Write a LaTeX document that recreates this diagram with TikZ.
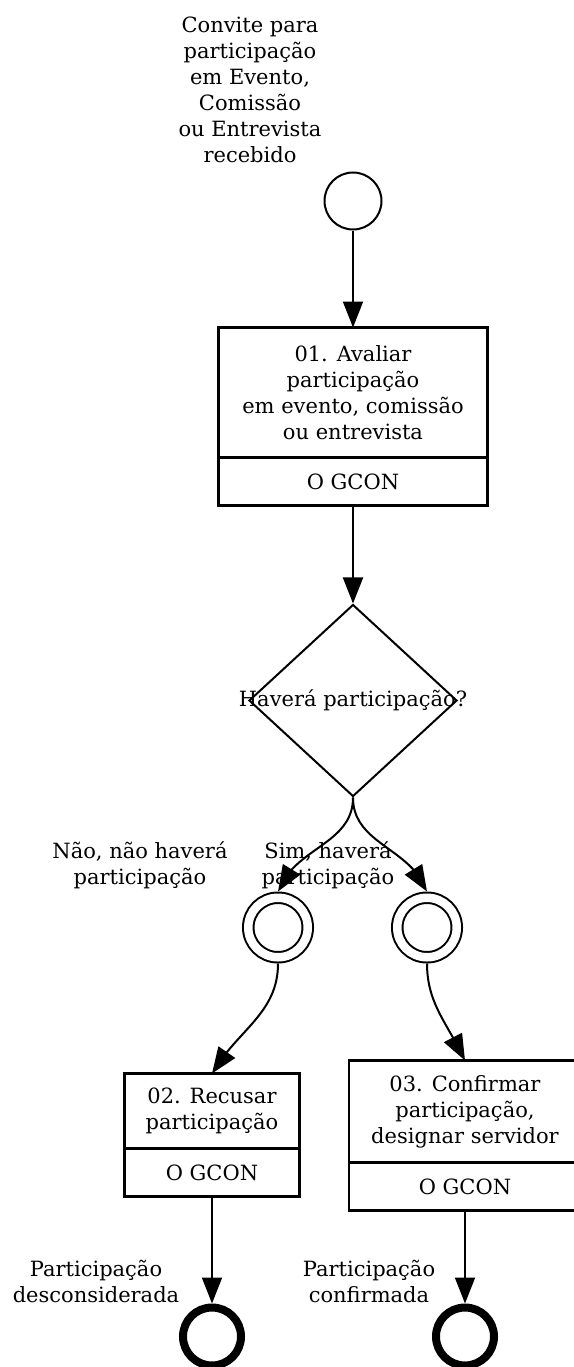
\documentclass[tikz,border=0pt]{standalone}
\usepackage{fontspec}
\setmainfont{DejaVu Serif}
\usetikzlibrary{positioning,calc,arrows.meta,bending,shapes.geometric}
\newcommand{\bpmnfont}{\fontsize{21}{26}\selectfont}

\begin{document}
\begin{tikzpicture}[x=1pt,y=1pt,->,>={Triangle[width=20pt,length=26pt]},line width=2pt,font=\bpmnfont,align=center,
  task/.style={draw,rectangle,line width=2.4pt,outer sep=0pt,inner sep=0pt},
  role/.style={draw,rectangle,line width=2.4pt,outer sep=0pt,inner sep=0pt,minimum height=48pt},
  startev/.style={draw,circle,minimum size=57pt,inner sep=0pt},
  interev/.style={draw,circle,double,double distance=8.5pt,minimum size=59.5pt,inner sep=0pt,outer sep=6.25pt},
  endev/.style={draw,circle,line width=8pt,minimum size=58pt,inner sep=0pt},
  gway/.style={draw,diamond,minimum width=208pt,minimum height=192pt,inner sep=0pt}]
\useasboundingbox (0,0) rectangle (573,-1367);

%% Start event
\node (start) [startev] at (353,-201) {};
\node (startLbl) at ($(start)+(-103,111)$)
      {Convite para\\participação\\em Evento,\\Comissão\\ou Entrevista\\recebido};

%% Task 01
\node (t1)  [task,below=97pt of start,minimum width=269pt,minimum height=130pt]
            {01. Avaliar\\participação\\em evento, comissão\\ou entrevista};
\node (t1r) [role,below=0pt of t1,minimum width=269pt] {O GCON};
\draw (start) -- (t1);

%% Gateway
\node (gw) [gway,below=98pt of t1r,label=center:{Haverá participação?}] {};
\draw (t1r) -- (gw);

%% Intermediate events
\node (evNao) [interev] at ($(gw.south)+(-75,-130)$) {};
\node (evSim) [interev] at ($(gw.south)+(74,-130)$) {};
\node (lblNao) at ($(evNao)+(-138,62)$) {Não, não haverá\\participação};
\node (lblSim) at ($(evSim)+(-99,62)$) {Sim, haverá\\participação};
\draw (gw.south) to[out=-90,in=70] (evNao.north);
\draw (gw.south) to[out=-90,in=110] (evSim.north);

%% Task 02
\node (t2)  [task,below=110pt of evNao,xshift=-66pt,minimum width=175pt,minimum height=75pt]
            {02. Recusar\\participação};
\node (t2r) [role,below=0pt of t2,minimum width=175pt] {O GCON};
\draw (evNao.south) to[out=-90,in=60] (t2.north);

%% Task 03
\node (t3)  [task,below=97pt of evSim,xshift=38pt,minimum width=232pt,minimum height=102pt]
            {03. Confirmar\\participação,\\designar servidor};
\node (t3r) [role,below=0pt of t3,minimum width=232pt] {O GCON};
\draw (evSim.south) to[out=-90,in=115] (t3.north);

%% End events
\node (end1) [endev,below=107pt of t2r] {};
\node (end2) [endev,below=93pt of t3r] {};
\node (lblEnd1) at ($(end1)+(-116,55)$) {Participação\\desconsiderada};
\node (lblEnd2) at ($(end2)+(-96,55)$) {Participação\\confirmada};
\draw (t2r) -- (end1);
\draw (t3r) -- (end2);
\end{tikzpicture}
\end{document}
